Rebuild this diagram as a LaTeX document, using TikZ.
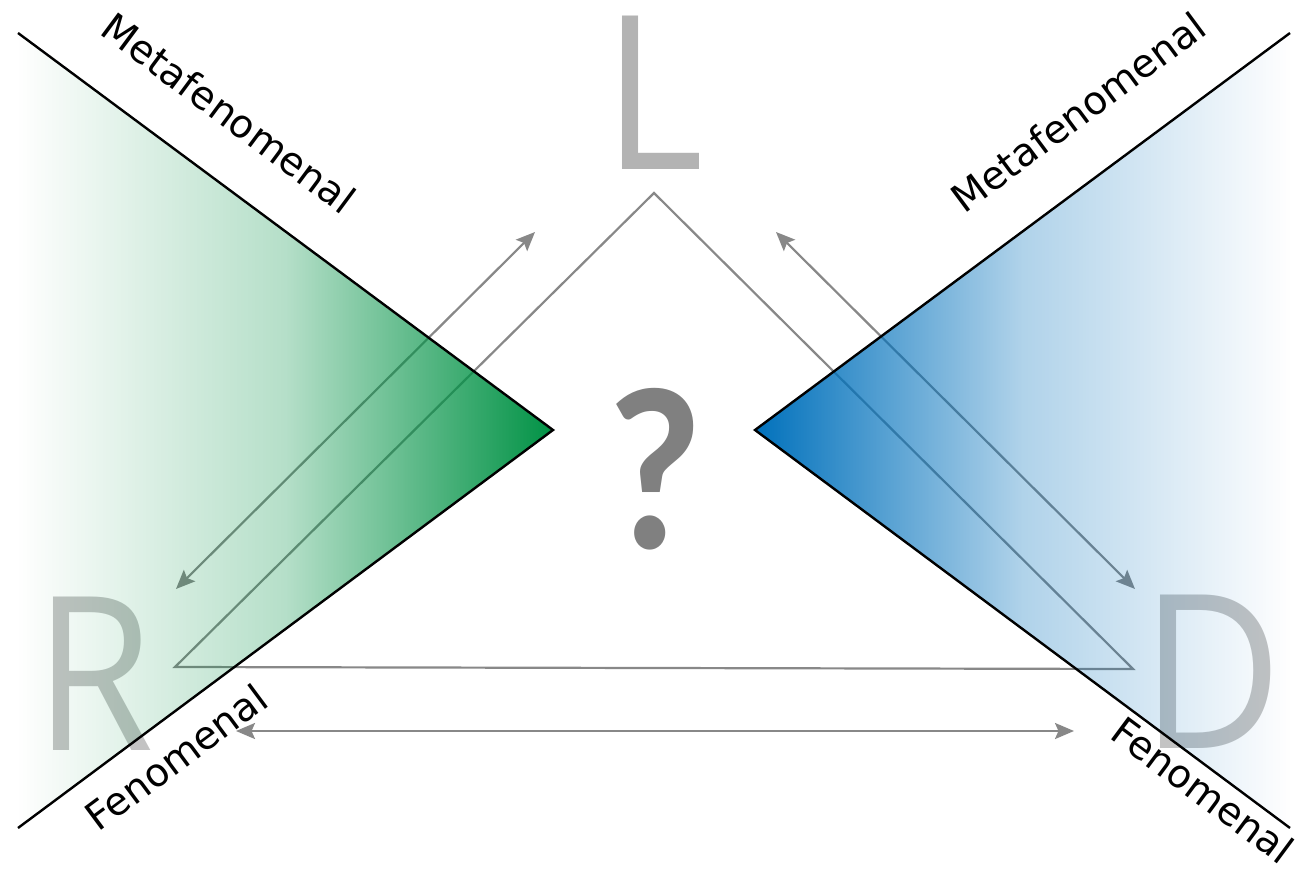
\documentclass[tikz,border=0pt]{standalone}
\usepackage{fontspec}
\setmainfont{DejaVu Sans}
\newfontfamily\bigfont{Open Sans}
\newfontfamily\qfont{Carlito}
\usetikzlibrary{arrows.meta,fadings}
\tikzfading[name=fadetoleft, left color=transparent!100, right color=transparent!0, middle color=transparent!71]
\tikzfading[name=fadetoright, left color=transparent!0, right color=transparent!100, middle color=transparent!69]
\definecolor{wgreen}{RGB}{0,146,69}
\definecolor{wblue}{RGB}{0,113,188}
\definecolor{trigrey}{RGB}{136,136,136}
\definecolor{Lgrey}{RGB}{179,179,179}
\definecolor{RDgrey}{RGB}{195,195,195}
\definecolor{qgrey}{RGB}{128,128,128}
\begin{document}
\begin{tikzpicture}[x=1pt,y=-1pt,
  triline/.style={draw=trigrey, line width=2.2pt, line join=miter},
  dblarrow/.style={draw=trigrey, line width=2.2pt, {Stealth[length=19pt,width=16pt,inset=3.5pt]}-{Stealth[length=19pt,width=16pt,inset=3.5pt]}},
  wedgeline/.style={draw=black, line width=2.4pt, line join=miter},
  biglet/.style={font=\bigfont\fontsize{215}{215}\selectfont, inner sep=0pt, anchor=base, xscale=0.9},
  lbl/.style={font=\fontsize{39}{41}\selectfont, inner sep=0pt}
]
\useasboundingbox (0,0) rectangle (1304,890);
\fill[white] (0,0) rectangle (1304,890);

% triangle vertices
\coordinate (vL) at (654,193);
\coordinate (vR) at (175,667);
\coordinate (vD) at (1133,669);
\draw[triline] (vL) -- (vR) -- (vD) -- cycle;

% big letters
\node[biglet, text=Lgrey] (L) at (654,170) {L};
\node[biglet, text=RDgrey] (R) at (94,750) {R};
\node[biglet, text=RDgrey] (D) at (1212,748) {D};
\node[biglet, text=qgrey, font=\qfont\bfseries\fontsize{232}{232}\selectfont, xscale=1] (Q) at (655,548) {?};

% arrows
\coordinate (a1) at (176,589);
\coordinate (a2) at (535,232);
\coordinate (b1) at (776,232);
\coordinate (b2) at (1135,589);
\coordinate (c1) at (236,731);
\coordinate (c2) at (1074,731);
\draw[dblarrow] (a1) -- (a2);
\draw[dblarrow] (b1) -- (b2);
\draw[dblarrow] (c1) -- (c2);

% wedges
\coordinate (gT) at (18,33);
\coordinate (gTip) at (553,430);
\coordinate (gB) at (18,828);
\coordinate (bT) at (1290,33);
\coordinate (bTip) at (755,430);
\coordinate (bB) at (1290,828);
\fill[wgreen, path fading=fadetoleft] (gT) -- (gTip) -- (gB) -- cycle;
\fill[wblue, path fading=fadetoright] (bT) -- (bTip) -- (bB) -- cycle;
\draw[wedgeline] (gT) -- (gTip) -- (gB);
\draw[wedgeline] (bT) -- (bTip) -- (bB);

% labels
\node[lbl, rotate=-36.6] (mL) at (229,113) {Metafenomenal};
\node[lbl, rotate=36.6] (mR) at (1078,112) {Metafenomenal};
\node[lbl, rotate=36.6] (fL) at (176,757) {Fenomenal};
\node[lbl, rotate=-36.6] (fR) at (1203,790) {Fenomenal};
\end{tikzpicture}
\end{document}
